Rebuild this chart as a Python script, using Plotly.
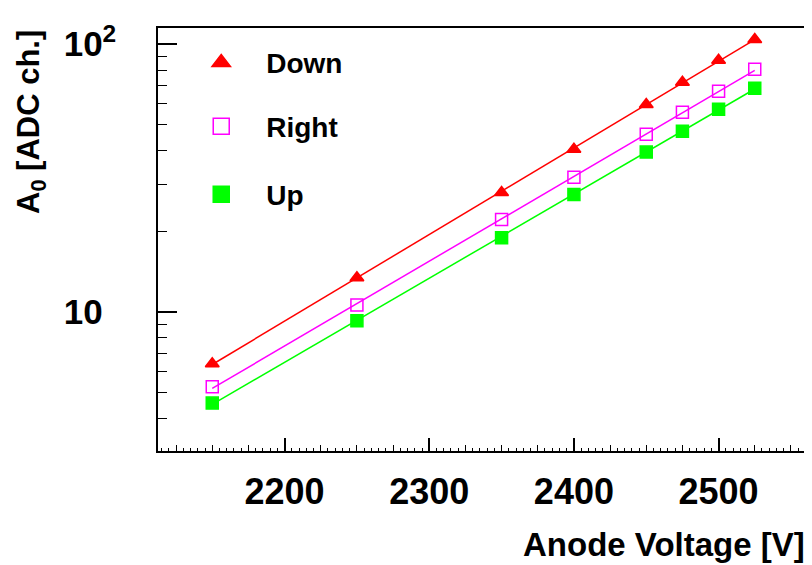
import numpy as np
import plotly.graph_objects as go

voltage = [2150, 2250, 2350, 2400, 2450, 2475, 2500, 2525]
a0_down = [6.4, 13.4, 27.9, 40.5, 59.5, 72.0, 87.0, 104.0]
a0_right = [5.25, 10.6, 22.1, 31.8, 46.0, 55.6, 66.7, 80.5]
a0_up = [4.56, 9.25, 18.9, 27.4, 39.5, 47.2, 57.1, 68.4]

series = [
    ("Down", a0_down, "#ff0000", "triangle-up", "legend"),
    ("Right", a0_right, "#ff00ff", "square-open", "legend2"),
    ("Up", a0_up, "#00ff00", "square", "legend3"),
]

FONT = "Liberation Sans, Arial, sans-serif"

fig = go.Figure()

for name, vals, col, sym, leg in series:
    # exponential fit, drawn between the first and last voltage
    p = np.polyfit(voltage, np.log(vals), 1)
    xf = np.array([voltage[0], voltage[-1]])
    fig.add_trace(go.Scatter(
        x=xf, y=np.exp(np.polyval(p, xf)),
        mode="lines", line=dict(color=col, width=1.5),
        showlegend=False, hoverinfo="skip"
    ))
    fig.add_trace(go.Scatter(
        x=voltage, y=vals, mode="markers", showlegend=False,
        marker=dict(color=col, symbol=sym, size=12,
                    line=dict(color=col, width=1.5)),
    ))
    # legend entry with a bigger symbol
    fig.add_trace(go.Scatter(
        x=[None], y=[None], name=name, mode="markers",
        marker=dict(color=col, symbol=sym, size=20,
                    line=dict(color=col, width=1.5)),
        legend=leg
    ))

xr = [2112.5, 2562.5]
yr = [0.48, 2.06]

fig.update_xaxes(
    range=xr, showline=True, linecolor="black", linewidth=1.5, mirror=True,
    ticks="inside", ticklen=13, tickcolor="black", tickwidth=1.5,
    tickvals=[2200, 2300, 2400, 2500], showgrid=False, zeroline=False,
    tickfont=dict(size=36, family=FONT, weight="bold", color="black"),
    ticklabelstandoff=8, automargin=False,
)
fig.update_yaxes(
    type="log", range=yr, showline=True, linecolor="black", linewidth=1.5,
    mirror=True, ticks="inside", ticklen=19, tickcolor="black", tickwidth=1.5,
    tickvals=[10, 100],
    ticktext=["10<sup><span style='color:white'>2</span></sup>",
              "10<sup>2</sup>"],
    showgrid=False, zeroline=False, automargin=False,
    tickfont=dict(size=35, family=FONT, weight="bold", color="black"),
    ticklabelstandoff=33,
)

# finer tick levels on overlay axes
fig.update_layout(
    xaxis2=dict(overlaying="x", range=xr, showline=False, showgrid=False,
                zeroline=False, ticks="inside", ticklen=6, tickwidth=1,
                tickcolor="black", dtick=25, tick0=2100, showticklabels=False,
                automargin=False,
                minor=dict(ticks="inside", ticklen=3, dtick=5, tick0=2100,
                           tickcolor="black", showgrid=False)),
    yaxis2=dict(overlaying="y", type="log", range=yr, showline=False,
                showgrid=False, zeroline=False, ticks="inside", ticklen=9,
                tickwidth=1, tickcolor="black", showticklabels=False,
                automargin=False,
                tickvals=[3, 4, 5, 6, 7, 8, 9, 20, 30, 40, 50, 60, 70, 80, 90]),
)
fig.add_trace(go.Scatter(x=[None], y=[None], xaxis="x2", yaxis="y2",
                         showlegend=False, hoverinfo="skip"))

leg_common = dict(
    xanchor="left", yanchor="middle", bgcolor="rgba(0,0,0,0)",
    font=dict(size=28, family=FONT, weight="bold", color="black"),
    itemwidth=80, itemsizing="trace",
)
fig.update_layout(
    legend=dict(x=0.028, y=0.918, **leg_common),
    legend2=dict(x=0.028, y=0.767, **leg_common),
    legend3=dict(x=0.028, y=0.606, **leg_common),
)

fig.add_annotation(
    text="A<sub>0</sub> [ADC ch.]", textangle=-90, xref="paper", yref="paper",
    x=0, y=1, xanchor="right", yanchor="top", xshift=-105, showarrow=False,
    font=dict(size=31, family=FONT, weight="bold", color="black"),
)
fig.add_annotation(
    text="Anode Voltage [V]", xref="paper", yref="paper",
    x=1, y=0, xanchor="right", yanchor="top", yshift=-73, xshift=-2,
    showarrow=False,
    font=dict(size=33, family=FONT, weight="bold", color="black"),
)

# page body adds an 8px offset, so the figure is 8px smaller each way
fig.update_layout(
    width=804, height=557,
    margin=dict(l=150, r=3, t=20, b=114, autoexpand=False),
    plot_bgcolor="white", paper_bgcolor="white",
)

fig.write_html("out.html")
